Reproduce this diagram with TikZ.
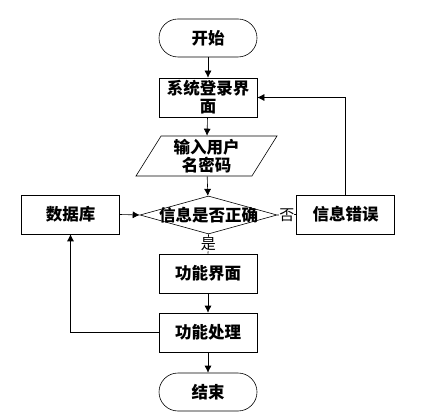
\documentclass[tikz,border=0pt]{standalone}
\usepackage{fontspec}
\usepackage{tikz}
\usetikzlibrary{shapes.geometric, arrows.meta}
\newfontfamily\cjk{Noto Sans CJK SC}

\begin{document}
\begin{tikzpicture}[x=1pt, y=-1pt, >={Latex[length=7pt,width=7pt]}, line width=0.6pt,
    box/.style={draw, minimum width=98pt, minimum height=39pt, inner sep=1pt, align=center,
        font=\cjk\bfseries\fontsize{16.5}{18}\selectfont},
    terminal/.style={box, minimum height=38pt, rounded corners=19pt},
    inbox/.style={box, trapezium, trapezium left angle=55, trapezium right angle=125,
        trapezium stretches body, minimum width=141pt, minimum height=40pt},
    decision/.style={box, diamond, inner sep=0pt, minimum width=137pt, minimum height=38pt},
    answer/.style={fill=white, inner sep=0pt, font=\cjk\fontsize{15}{15}\selectfont}]
    \useasboundingbox (0,0) rectangle (441,419);

    % Main column
    \node[terminal] (start) at (208,38) {开始};
    \node[box] (login) at (208,97.5) {系统登录界\\面};
    \node[inbox] (input) at (206.5,156) {输入用户\\名密码};
    \node[decision] (check) at (208.5,215) {\makebox[0pt]{信息是否正确}};
    \node[box] (ui) at (208,273.5) {功能界面};
    \node[box] (proc) at (208,332.5) {功能处理};
    \node[terminal] (end) at (208,392) {结束};

    % Side boxes
    \node[box] (db) at (70.5,214.5) {数据库};
    \node[box] (err) at (345.5,214.5) {信息错误};

    % Flow
    \draw[->] (start) -- (login);
    \draw[->] (login) -- (input);
    \draw[->] (input) -- (check);
    \draw (check.south) -- node[answer] {是} (ui.north);
    \draw[->] (ui) -- (proc);
    \draw[->] (proc) -- (end);

    % Branches
    \draw (check.east) -- node[answer] {否} (err.west);
    \draw[->] (err.north) |- (login.east);
    \draw[->] (db.east) -- (check.west);
    \draw[->] (proc.west) -| (db.south);
\end{tikzpicture}
\end{document}
